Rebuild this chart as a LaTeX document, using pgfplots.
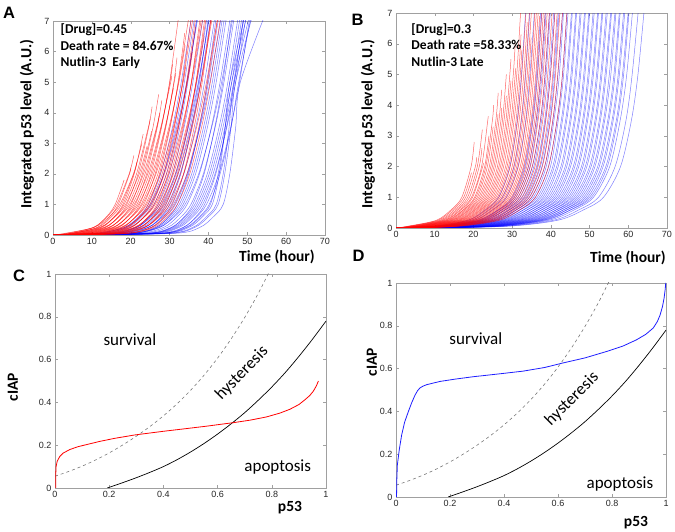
\documentclass[border=0pt]{standalone}
\usepackage{pgfplots}
\pgfplotsset{compat=1.18}
\usepackage{fontspec}
\setmainfont{Carlito}
\newfontfamily\arial{Liberation Sans}
\definecolor{framegray}{RGB}{160,160,160}
\definecolor{tickgray}{RGB}{38,38,38}
\definecolor{dashgray}{RGB}{120,120,120}
\definecolor{cblue}{RGB}{30,30,255}
\pgfplotsset{
 mstyle/.style={scale only axis, anchor=south west, clip mode=individual,
   axis line style={framegray,line width=0.5pt},
   every tick/.style={framegray,line width=0.4pt},
   tick align=inside, xtick pos=both, ytick pos=both,
   xticklabel pos=lower, yticklabel pos=left, major tick length=3pt,
   ticklabel style={font=\arial\fontsize{9}{10}\selectfont, text=tickgray},
   /pgf/number format/assume math mode=true},
 rc/.style={draw=red, opacity=0.6, line width=0.5pt, smooth},
 bc/.style={draw=blue, opacity=0.5, line width=0.5pt, smooth},
}
% levels 0, 0.05, 0.25, 0.6, 1, 2, 3.5, 5 then a free end point (time, level)
\newcommand\rX[6]{\addplot[rc] coordinates {(0,0)(#1,0.05)(#2,0.25)(#3,0.6)(#4,1)(#5,#6)};}
\newcommand\rY[7]{\addplot[rc] coordinates {(0,0)(#1,0.05)(#2,0.25)(#3,0.6)(#4,1)(#5,2)(#6,#7)};}
\newcommand\rZ[8]{\addplot[rc] coordinates {(0,0)(#1,0.05)(#2,0.25)(#3,0.6)(#4,1)(#5,2)(#6,3.5)(#7,#8)};}
\newcommand\rW[9]{\addplot[rc] coordinates {(0,0)(#1,0.05)(#2,0.25)(#3,0.6)(#4,1)(#5,2)(#6,3.5)(#7,5)(#8,#9)};}
\newcommand\bD[8]{\addplot[bc] coordinates {(0,0)(#1,0.05)(#2,0.25)(#3,0.6)(#4,1)(#5,2)(#6,3.5)(#7,5)(#8,7.5)};}
\newcommand\lab{\bfseries\fontsize{15.5}{16}\selectfont}
\newcommand\ann{\bfseries\fontsize{13.5}{14}\selectfont}
\newcommand\reg{\fontsize{17}{18}\selectfont}
\newcommand\plet{\arial\bfseries\fontsize{16.5}{17}\selectfont}
\begin{document}
\begin{tikzpicture}
\path[use as bounding box] (0pt,0pt) rectangle (675pt,532pt);
% ---------------- A ----------------
\begin{axis}[mstyle, at={(53pt,297pt)}, width=272pt, height=214pt,
  xmin=0, xmax=70, ymin=0, ymax=7, xtick={0,10,...,70}, ytick={0,1,...,7}]
\bD{11.5}{18.5}{22.0}{24.5}{27.7}{30.7}{33.0}{36.1}
\bD{10.7}{18.4}{22.3}{25.0}{28.5}{31.8}{34.4}{37.8}
\bD{12.3}{19.3}{22.8}{25.3}{28.5}{31.5}{33.8}{36.9}
\bD{13.0}{20.0}{23.5}{26.0}{29.2}{32.2}{34.5}{37.6}
\bD{15.3}{21.6}{24.8}{27.0}{29.9}{32.6}{34.7}{37.4}
\bD{14.5}{21.5}{25.0}{27.5}{30.7}{33.7}{36.0}{39.1}
\bD{13.7}{21.4}{25.3}{28.0}{31.5}{34.8}{37.4}{40.8}
\bD{15.5}{22.5}{26.0}{28.5}{31.7}{34.7}{37.0}{40.1}
\bD{16.0}{23.0}{26.5}{29.0}{32.2}{35.2}{37.5}{40.6}
\bD{16.5}{23.5}{27.0}{29.5}{32.7}{35.7}{38.0}{41.1}
\bD{18.3}{24.6}{27.8}{30.0}{32.9}{35.6}{37.7}{40.4}
\bD{17.5}{24.5}{28.0}{30.5}{33.7}{36.7}{39.0}{42.1}
\bD{16.7}{24.4}{28.3}{31.0}{34.5}{37.8}{40.4}{43.8}
\bD{18.5}{25.5}{29.0}{31.5}{34.7}{37.7}{40.0}{43.1}
\bD{20.3}{26.6}{29.8}{32.0}{34.9}{37.6}{39.7}{42.4}
\bD{19.5}{26.5}{30.0}{32.5}{35.7}{38.7}{41.0}{44.1}
\bD{20.0}{27.0}{30.5}{33.0}{36.2}{39.2}{41.5}{44.6}
\bD{20.5}{27.5}{31.0}{33.5}{36.7}{39.7}{42.0}{45.1}
\bD{19.7}{27.4}{31.3}{34.0}{37.5}{40.8}{43.4}{46.8}
\bD{21.5}{28.5}{32.0}{34.5}{37.7}{40.7}{43.0}{46.1}
\bD{22.5}{29.5}{33.0}{35.5}{38.7}{41.7}{44.0}{47.1}
\bD{24.3}{30.6}{33.8}{36.0}{38.9}{41.6}{43.7}{46.4}
\bD{23.5}{30.5}{34.0}{36.5}{39.7}{42.7}{45.0}{48.1}
\bD{24.0}{31.0}{34.5}{37.0}{40.2}{43.2}{45.5}{48.6}
\bD{24.5}{31.5}{35.0}{37.5}{40.7}{43.7}{46.0}{49.1}
\bD{25.0}{32.0}{35.5}{38.0}{41.2}{44.2}{46.5}{49.6}
\bD{25.5}{32.5}{36.0}{38.5}{41.7}{44.7}{47.0}{50.1}
\bD{27.3}{33.6}{36.8}{39.0}{41.9}{44.6}{46.7}{49.4}
\bD{26.5}{33.5}{37.0}{39.5}{42.7}{45.7}{48.0}{51.1}
\bD{27.2}{34.2}{37.7}{40.2}{43.0}{45.8}{47.8}{51.5}
\bD{27.5}{34.5}{38.0}{40.5}{42.5}{44.3}{46.0}{50.5}
\bD{28.0}{35.0}{38.5}{41.0}{42.8}{44.3}{45.5}{50.0}
\bD{29.0}{36.0}{39.5}{42.0}{43.8}{45.3}{46.6}{51.2}
\bD{29.5}{36.5}{40.0}{42.5}{44.2}{45.8}{47.0}{52.0}
\bD{30.8}{37.8}{41.3}{43.8}{45.5}{47.0}{48.2}{55.5}
\rX{4.3}{10.6}{13.8}{16.0}{18.3}{1.8}
\rY{3.4}{10.4}{13.9}{16.4}{19.6}{20.8}{2.6}
\rY{5.1}{11.4}{14.6}{16.8}{19.7}{20.0}{2.2}
\rY{2.9}{10.6}{14.5}{17.2}{20.7}{22.9}{3.0}
\rY{4.6}{11.6}{15.1}{17.6}{20.8}{21.6}{2.4}
\rY{6.3}{12.6}{15.8}{18.0}{20.9}{23.2}{3.3}
\rZ{5.3}{12.3}{15.8}{18.3}{21.5}{24.5}{25.0}{3.8}
\rY{4.4}{12.1}{16.0}{18.7}{22.2}{24.2}{2.9}
\rZ{7.3}{13.6}{16.8}{19.0}{21.9}{24.6}{25.5}{4.2}
\rY{6.4}{13.4}{16.9}{19.4}{22.6}{25.4}{3.4}
\rZ{5.5}{13.2}{17.1}{19.8}{23.3}{26.6}{27.5}{4.0}
\rZ{8.4}{14.7}{17.9}{20.1}{23.0}{25.7}{27.2}{4.6}
\rZ{7.5}{14.5}{18.0}{20.5}{23.7}{26.7}{27.3}{3.9}
\rW{6.6}{14.3}{18.2}{20.9}{24.4}{27.7}{30.3}{30.5}{5.2}
\rZ{9.5}{15.8}{19.0}{21.2}{24.1}{26.8}{28.0}{4.4}
\rW{8.6}{15.6}{19.1}{21.6}{24.8}{27.8}{30.1}{30.8}{5.6}
\rZ{7.7}{15.4}{19.3}{22.0}{25.5}{28.8}{31.0}{4.8}
\rW{10.6}{16.9}{20.1}{22.3}{25.2}{27.9}{30.0}{32.7}{7.5}
\rW{9.7}{16.7}{20.2}{22.7}{25.9}{28.9}{31.2}{31.6}{5.3}
\rW{8.7}{16.4}{20.3}{23.0}{26.5}{29.8}{32.4}{34.0}{6.2}
\rW{11.7}{18.0}{21.2}{23.4}{26.3}{29.0}{31.1}{31.9}{5.8}
\rW{10.8}{17.8}{21.3}{23.8}{27.0}{30.0}{32.3}{35.4}{7.5}
\rW{9.8}{17.5}{21.4}{24.1}{27.6}{30.9}{33.5}{34.1}{5.5}
\rW{12.8}{19.1}{22.3}{24.5}{27.4}{30.1}{32.2}{33.9}{6.6}
\rW{11.9}{18.9}{22.4}{24.9}{28.1}{31.1}{33.4}{36.5}{7.5}
\rW{10.9}{18.6}{22.5}{25.2}{28.7}{32.0}{34.6}{35.9}{6.0}
\rW{13.9}{20.2}{23.4}{25.6}{28.5}{31.2}{33.3}{36.0}{7.5}
\rW{13.0}{20.0}{23.5}{26.0}{29.2}{32.2}{34.5}{36.7}{6.8}
\rW{12.0}{19.7}{23.6}{26.3}{29.8}{33.1}{35.7}{39.1}{7.5}
\rW{15.0}{21.3}{24.5}{26.7}{29.6}{32.3}{34.4}{37.1}{7.5}
\rW{14.1}{21.1}{24.6}{27.1}{30.3}{33.3}{35.6}{38.7}{7.5}
\rW{13.2}{20.9}{24.8}{27.5}{31.0}{34.3}{36.9}{38.9}{6.5}
\rW{16.2}{22.5}{25.7}{27.9}{30.8}{33.5}{35.6}{38.3}{7.5}
\rW{15.3}{22.3}{25.8}{28.3}{31.5}{34.5}{36.8}{39.9}{7.5}
\rW{14.4}{22.1}{26.0}{28.7}{32.2}{35.5}{38.1}{41.5}{7.5}
\rW{17.4}{23.7}{26.9}{29.1}{32.0}{34.7}{36.8}{39.5}{7.5}
\rW{16.6}{23.6}{27.1}{29.6}{32.8}{35.8}{38.1}{41.2}{7.5}
\rW{15.8}{23.5}{27.4}{30.1}{33.6}{36.9}{39.5}{42.9}{7.5}
\rW{19.0}{25.3}{28.5}{30.7}{33.6}{36.3}{38.4}{41.1}{7.5}
\rW{18.3}{25.3}{28.8}{31.3}{34.5}{37.5}{39.8}{42.9}{7.5}
\rW{19.0}{26.0}{29.5}{32.0}{35.2}{38.2}{40.5}{43.6}{7.5}
\node[anchor=base west, font=\ann] at (rel axis cs:0.015,0.9425) {[Drug]=0.45};
\node[anchor=base west, font=\ann] at (rel axis cs:0.015,0.864) {Death rate = 84.67\%};
\node[anchor=base west, font=\ann] at (rel axis cs:0.015,0.787) {Nutlin-3\ \ Early};
\end{axis}
% ---------------- B ----------------
\begin{axis}[mstyle, at={(396pt,304pt)}, width=271pt, height=215pt,
  xmin=0, xmax=70, ymin=0, ymax=7, xtick={0,10,...,70}, ytick={0,1,...,7}]
\bD{9.2}{18.5}{23.2}{26.5}{29.4}{31.3}{32.4}{33.7}
\bD{9.9}{19.4}{24.1}{27.5}{30.5}{32.4}{33.5}{34.8}
\bD{10.6}{20.2}{25.1}{28.5}{31.5}{33.5}{34.6}{36.0}
\bD{11.6}{21.5}{26.5}{30.0}{33.1}{35.1}{36.3}{37.6}
\bD{10.8}{21.0}{26.6}{30.5}{33.5}{35.4}{36.6}{37.9}
\bD{12.3}{22.4}{27.4}{31.0}{34.2}{36.2}{37.4}{38.8}
\bD{11.4}{21.8}{27.5}{31.5}{34.6}{36.5}{37.7}{39.0}
\bD{13.0}{23.2}{28.3}{32.0}{35.2}{37.3}{38.5}{39.9}
\bD{12.0}{22.6}{28.4}{32.5}{35.6}{37.6}{38.8}{40.1}
\bD{13.6}{24.1}{29.3}{33.0}{36.3}{38.4}{39.6}{41.0}
\bD{12.7}{23.5}{29.3}{33.5}{36.7}{38.7}{39.9}{41.3}
\bD{14.3}{24.9}{30.2}{34.0}{37.3}{39.5}{40.7}{42.2}
\bD{13.3}{24.3}{30.3}{34.5}{37.7}{39.8}{41.0}{42.4}
\bD{15.0}{25.8}{31.2}{35.0}{38.4}{40.5}{41.8}{43.3}
\bD{14.0}{25.2}{31.2}{35.5}{38.8}{40.8}{42.2}{43.5}
\bD{15.7}{26.6}{32.1}{36.0}{39.4}{41.6}{43.0}{44.4}
\bD{14.7}{26.0}{32.1}{36.5}{39.9}{41.9}{43.3}{44.7}
\bD{16.4}{27.5}{33.0}{37.0}{40.5}{42.7}{44.1}{45.6}
\bD{15.4}{26.9}{33.1}{37.5}{40.9}{43.0}{44.4}{45.8}
\bD{17.1}{28.3}{34.0}{38.0}{41.5}{43.8}{45.2}{46.7}
\bD{16.1}{27.7}{34.0}{38.5}{41.9}{44.1}{45.5}{46.9}
\bD{17.7}{29.2}{34.9}{39.0}{42.6}{44.9}{46.3}{47.8}
\bD{16.7}{28.6}{35.0}{39.5}{43.0}{45.2}{46.6}{48.1}
\bD{18.4}{30.0}{35.9}{40.0}{43.7}{46.0}{47.4}{49.0}
\bD{17.4}{29.4}{35.9}{40.5}{44.1}{46.3}{47.7}{49.2}
\bD{19.1}{30.9}{36.8}{41.0}{44.7}{47.1}{48.5}{50.1}
\bD{18.1}{30.3}{36.8}{41.5}{45.1}{47.4}{48.8}{50.3}
\bD{19.8}{31.8}{37.7}{42.0}{45.8}{48.2}{49.6}{51.2}
\bD{18.8}{31.2}{37.8}{42.5}{46.2}{48.5}{49.9}{51.5}
\bD{20.5}{32.6}{38.7}{43.0}{46.8}{49.2}{50.7}{52.4}
\bD{19.5}{32.0}{38.7}{43.5}{47.2}{49.5}{51.0}{52.6}
\bD{21.2}{33.5}{39.6}{44.0}{47.9}{50.3}{51.8}{53.5}
\bD{20.2}{32.9}{39.7}{44.5}{48.3}{50.6}{52.1}{53.7}
\bD{21.9}{34.3}{40.6}{45.0}{48.9}{51.4}{52.9}{54.6}
\bD{20.9}{33.7}{40.6}{45.5}{49.3}{51.7}{53.2}{54.9}
\bD{22.5}{35.2}{41.5}{46.0}{50.0}{52.5}{54.0}{55.8}
\bD{21.5}{34.6}{41.6}{46.5}{50.4}{52.8}{54.3}{56.0}
\bD{23.2}{36.0}{42.4}{47.0}{51.0}{53.6}{55.1}{56.9}
\bD{22.2}{35.4}{42.5}{47.5}{51.4}{53.9}{55.5}{57.1}
\bD{23.9}{36.9}{43.4}{48.0}{52.1}{54.7}{56.3}{58.0}
\bD{22.9}{36.3}{43.4}{48.5}{52.5}{55.0}{56.6}{58.2}
\bD{24.6}{37.7}{44.3}{49.0}{53.1}{55.8}{57.4}{59.1}
\bD{23.7}{37.1}{44.3}{49.5}{53.5}{56.1}{57.7}{59.4}
\bD{25.3}{38.6}{45.2}{50.0}{54.2}{56.9}{58.5}{60.3}
\bD{24.3}{38.0}{45.3}{50.5}{54.6}{57.2}{58.8}{60.5}
\bD{26.0}{39.4}{46.2}{51.0}{55.2}{57.9}{59.6}{61.4}
\bD{26.8}{40.6}{47.4}{52.3}{56.6}{59.4}{61.0}{62.9}
\bD{27.7}{41.7}{48.6}{53.6}{58.0}{60.8}{62.5}{64.4}
\rY{2.7}{10.4}{14.3}{17.0}{19.4}{20.2}{2.8}
\rX{3.0}{10.8}{14.7}{17.5}{19.5}{1.8}
\rY{3.4}{11.3}{15.2}{18.0}{20.5}{20.8}{2.3}
\rY{3.7}{11.7}{15.7}{18.5}{21.0}{22.3}{3.2}
\rY{4.1}{12.1}{16.1}{19.0}{21.5}{22.2}{2.6}
\rZ{4.4}{12.5}{16.6}{19.5}{22.1}{23.7}{23.8}{3.6}
\rY{4.6}{12.8}{16.9}{19.8}{22.4}{22.5}{2.1}
\rY{5.0}{13.2}{17.4}{20.3}{22.9}{24.0}{3.0}
\rZ{5.2}{13.5}{17.6}{20.6}{23.2}{24.9}{25.2}{4.0}
\rY{5.4}{13.8}{18.0}{21.0}{23.6}{25.1}{3.3}
\rZ{5.7}{14.2}{18.4}{21.4}{24.1}{25.8}{26.4}{4.4}
\rZ{6.0}{14.5}{18.8}{21.8}{24.5}{26.2}{26.3}{3.7}
\rZ{6.3}{14.8}{19.1}{22.2}{24.9}{26.6}{27.3}{4.5}
\rZ{6.5}{15.2}{19.5}{22.6}{25.3}{27.1}{27.3}{3.9}
\rZ{6.8}{15.5}{19.9}{23.0}{25.7}{27.5}{28.5}{5.0}
\rZ{7.1}{15.9}{20.3}{23.4}{26.2}{27.9}{28.5}{4.3}
\rW{7.3}{16.2}{20.6}{23.8}{26.6}{28.4}{29.4}{29.7}{5.5}
\rZ{7.6}{16.5}{21.0}{24.2}{27.0}{28.8}{29.7}{4.8}
\rW{7.9}{16.9}{21.4}{24.6}{27.4}{29.2}{30.3}{30.8}{6.0}
\rW{8.2}{17.2}{21.8}{25.0}{27.8}{29.7}{30.8}{30.9}{5.2}
\rW{8.4}{17.6}{22.1}{25.4}{28.3}{30.1}{31.2}{32.4}{7.5}
\rW{8.7}{17.9}{22.5}{25.8}{28.7}{30.5}{31.7}{32.3}{6.3}
\rW{9.0}{18.3}{22.9}{26.2}{29.1}{31.0}{32.1}{32.5}{5.8}
\rW{9.3}{18.6}{23.3}{26.6}{29.5}{31.4}{32.5}{33.8}{7.5}
\rW{9.5}{18.9}{23.6}{27.0}{30.0}{31.8}{33.0}{33.9}{6.7}
\rW{9.8}{19.3}{24.0}{27.4}{30.4}{32.3}{33.4}{34.7}{7.5}
\rW{10.1}{19.6}{24.4}{27.8}{30.8}{32.7}{33.9}{35.2}{7.5}
\rW{10.4}{20.0}{24.8}{28.2}{31.2}{33.1}{34.3}{34.9}{6.2}
\rW{10.6}{20.3}{25.1}{28.6}{31.6}{33.6}{34.8}{36.1}{7.5}
\rW{10.9}{20.6}{25.5}{29.0}{32.1}{34.0}{35.2}{36.5}{7.5}
\rW{11.2}{21.0}{25.9}{29.4}{32.5}{34.5}{35.6}{37.0}{7.5}
\rW{11.4}{21.3}{26.3}{29.8}{32.9}{34.9}{36.1}{37.1}{6.9}
\rW{11.7}{21.7}{26.7}{30.2}{33.3}{35.3}{36.5}{37.9}{7.5}
\rW{12.0}{22.0}{27.0}{30.6}{33.8}{35.8}{37.0}{38.3}{7.5}
\rW{12.3}{22.4}{27.4}{31.0}{34.2}{36.2}{37.4}{38.8}{7.5}
\rW{12.6}{22.8}{27.9}{31.5}{34.7}{36.7}{38.0}{39.3}{7.5}
\rW{13.0}{23.2}{28.3}{32.0}{35.2}{37.3}{38.5}{39.9}{7.5}
\rW{13.4}{23.7}{28.9}{32.6}{35.9}{37.9}{39.2}{40.6}{7.5}
\rW{13.8}{24.2}{29.5}{33.2}{36.5}{38.6}{39.9}{41.3}{7.5}
\rW{14.2}{24.8}{30.0}{33.8}{37.1}{39.2}{40.5}{41.9}{7.5}
\rW{14.6}{25.3}{30.6}{34.4}{37.8}{39.9}{41.2}{42.6}{7.5}
\rW{15.0}{25.8}{31.2}{35.0}{38.4}{40.5}{41.8}{43.3}{7.5}
\rW{15.7}{26.6}{32.1}{36.0}{39.4}{41.6}{43.0}{44.4}{7.5}
\node[anchor=base west, font=\ann] at (rel axis cs:0.044,0.906) {[Drug]=0.3};
\node[anchor=base west, font=\ann] at (rel axis cs:0.044,0.828) {Death rate =58.33\%};
\node[anchor=base west, font=\ann] at (rel axis cs:0.044,0.751) {Nutlin-3 Late};
\end{axis}
% ---------------- C ----------------
\begin{axis}[mstyle, at={(55pt,44pt)}, width=271pt, height=214pt,
  xmin=0, xmax=1, ymin=0, ymax=1, xtick={0,0.2,...,1}, ytick={0,0.2,...,1}]
\addplot[dashgray, dashed, line width=0.6pt, smooth] coordinates {(0,0.055)(0.05,0.077)(0.1,0.102)(0.15,0.131)(0.2,0.164)(0.25,0.201)(0.3,0.242)(0.35,0.287)(0.4,0.337)(0.45,0.393)(0.5,0.456)(0.55,0.527)(0.6,0.607)(0.65,0.697)(0.7,0.797)(0.75,0.909)(0.8,1.035)};
\addplot[black, line width=0.7pt, smooth] coordinates {(0.193,0)(0.25,0.025)(0.3,0.048)(0.35,0.073)(0.4,0.1)(0.45,0.132)(0.5,0.168)(0.55,0.208)(0.6,0.252)(0.65,0.3)(0.7,0.352)(0.75,0.41)(0.8,0.472)(0.85,0.54)(0.9,0.615)(0.95,0.695)(1.0,0.78)};
\addplot[red, line width=0.8pt] coordinates {(0.003,0)(0.003,0.07)(0.004,0.1)(0.008,0.125)(0.018,0.148)(0.03,0.163)(0.055,0.18)(0.085,0.193)(0.117,0.203)(0.166,0.218)(0.22,0.232)(0.295,0.248)(0.4,0.265)(0.474,0.276)(0.56,0.289)(0.662,0.306)(0.72,0.317)(0.78,0.332)(0.83,0.35)(0.867,0.368)(0.9,0.39)(0.922,0.412)(0.94,0.432)(0.953,0.452)(0.964,0.476)(0.972,0.5)};
\node[anchor=base west, font=\reg] at (axis cs:0.166,0.664) {survival};
\node[anchor=base west, font=\reg] at (axis cs:0.686,0.076) {apoptosis};
\node[rotate=46, font=\reg] at (axis cs:0.69,0.537) {hysteresis};
\end{axis}
% ---------------- D ----------------
\begin{axis}[mstyle, at={(396pt,35pt)}, width=270pt, height=214pt,
  xmin=0, xmax=1, ymin=0, ymax=1, xtick={0,0.2,...,1}, ytick={0,0.2,...,1}]
\addplot[dashgray, dashed, line width=0.6pt, smooth] coordinates {(0,0.055)(0.05,0.077)(0.1,0.102)(0.15,0.131)(0.2,0.164)(0.25,0.201)(0.3,0.242)(0.35,0.287)(0.4,0.337)(0.45,0.393)(0.5,0.456)(0.55,0.527)(0.6,0.607)(0.65,0.697)(0.7,0.797)(0.75,0.909)(0.8,1.035)};
\addplot[black, line width=0.7pt, smooth] coordinates {(0.193,0)(0.25,0.025)(0.3,0.048)(0.35,0.073)(0.4,0.1)(0.45,0.132)(0.5,0.168)(0.55,0.208)(0.6,0.252)(0.65,0.3)(0.7,0.352)(0.75,0.41)(0.8,0.472)(0.85,0.54)(0.9,0.615)(0.95,0.695)(1.0,0.78)};
\addplot[cblue, line width=0.8pt] coordinates {(0.002,0)(0.003,0.08)(0.005,0.15)(0.012,0.22)(0.021,0.29)(0.032,0.35)(0.046,0.40)(0.058,0.44)(0.07,0.475)(0.08,0.497)(0.089,0.51)(0.1,0.518)(0.114,0.525)(0.14,0.533)(0.163,0.54)(0.22,0.551)(0.286,0.562)(0.38,0.575)(0.47,0.588)(0.55,0.605)(0.614,0.625)(0.7,0.65)(0.78,0.68)(0.84,0.705)(0.89,0.734)(0.925,0.76)(0.953,0.79)(0.968,0.82)(0.978,0.85)(0.987,0.89)(0.993,0.93)(0.997,0.97)(0.999,1.0)};
\node[anchor=base west, font=\reg] at (axis cs:0.185,0.712) {survival};
\node[anchor=base west, font=\reg] at (axis cs:0.693,0.039) {apoptosis};
\node[rotate=45, font=\reg] at (axis cs:0.652,0.458) {hysteresis};
\end{axis}
% ---------------- labels ----------------
\node[rotate=90, font=\lab] at (27pt,408pt) {Integrated p53 level (A.U.)};
\node[font=\lab] at (277pt,275pt) {Time (hour)};
\node[rotate=90, font=\lab] at (368pt,408pt) {Integrated p53 level (A.U.)};
\node[font=\lab] at (628pt,274pt) {Time (hour)};
\node[rotate=90, font=\lab] at (13pt,145pt) {cIAP};
\node[font=\lab] at (290pt,24pt) {p53};
\node[rotate=90, font=\lab] at (372pt,170pt) {cIAP};
\node[font=\lab] at (636pt,9pt) {p53};
\node[font=\plet] at (9pt,519.5pt) {A};
\node[font=\plet] at (357.5pt,512.5pt) {B};
\node[font=\plet] at (19pt,256pt) {C};
\node[font=\plet] at (358.5pt,276.5pt) {D};
\end{tikzpicture}
\end{document}
